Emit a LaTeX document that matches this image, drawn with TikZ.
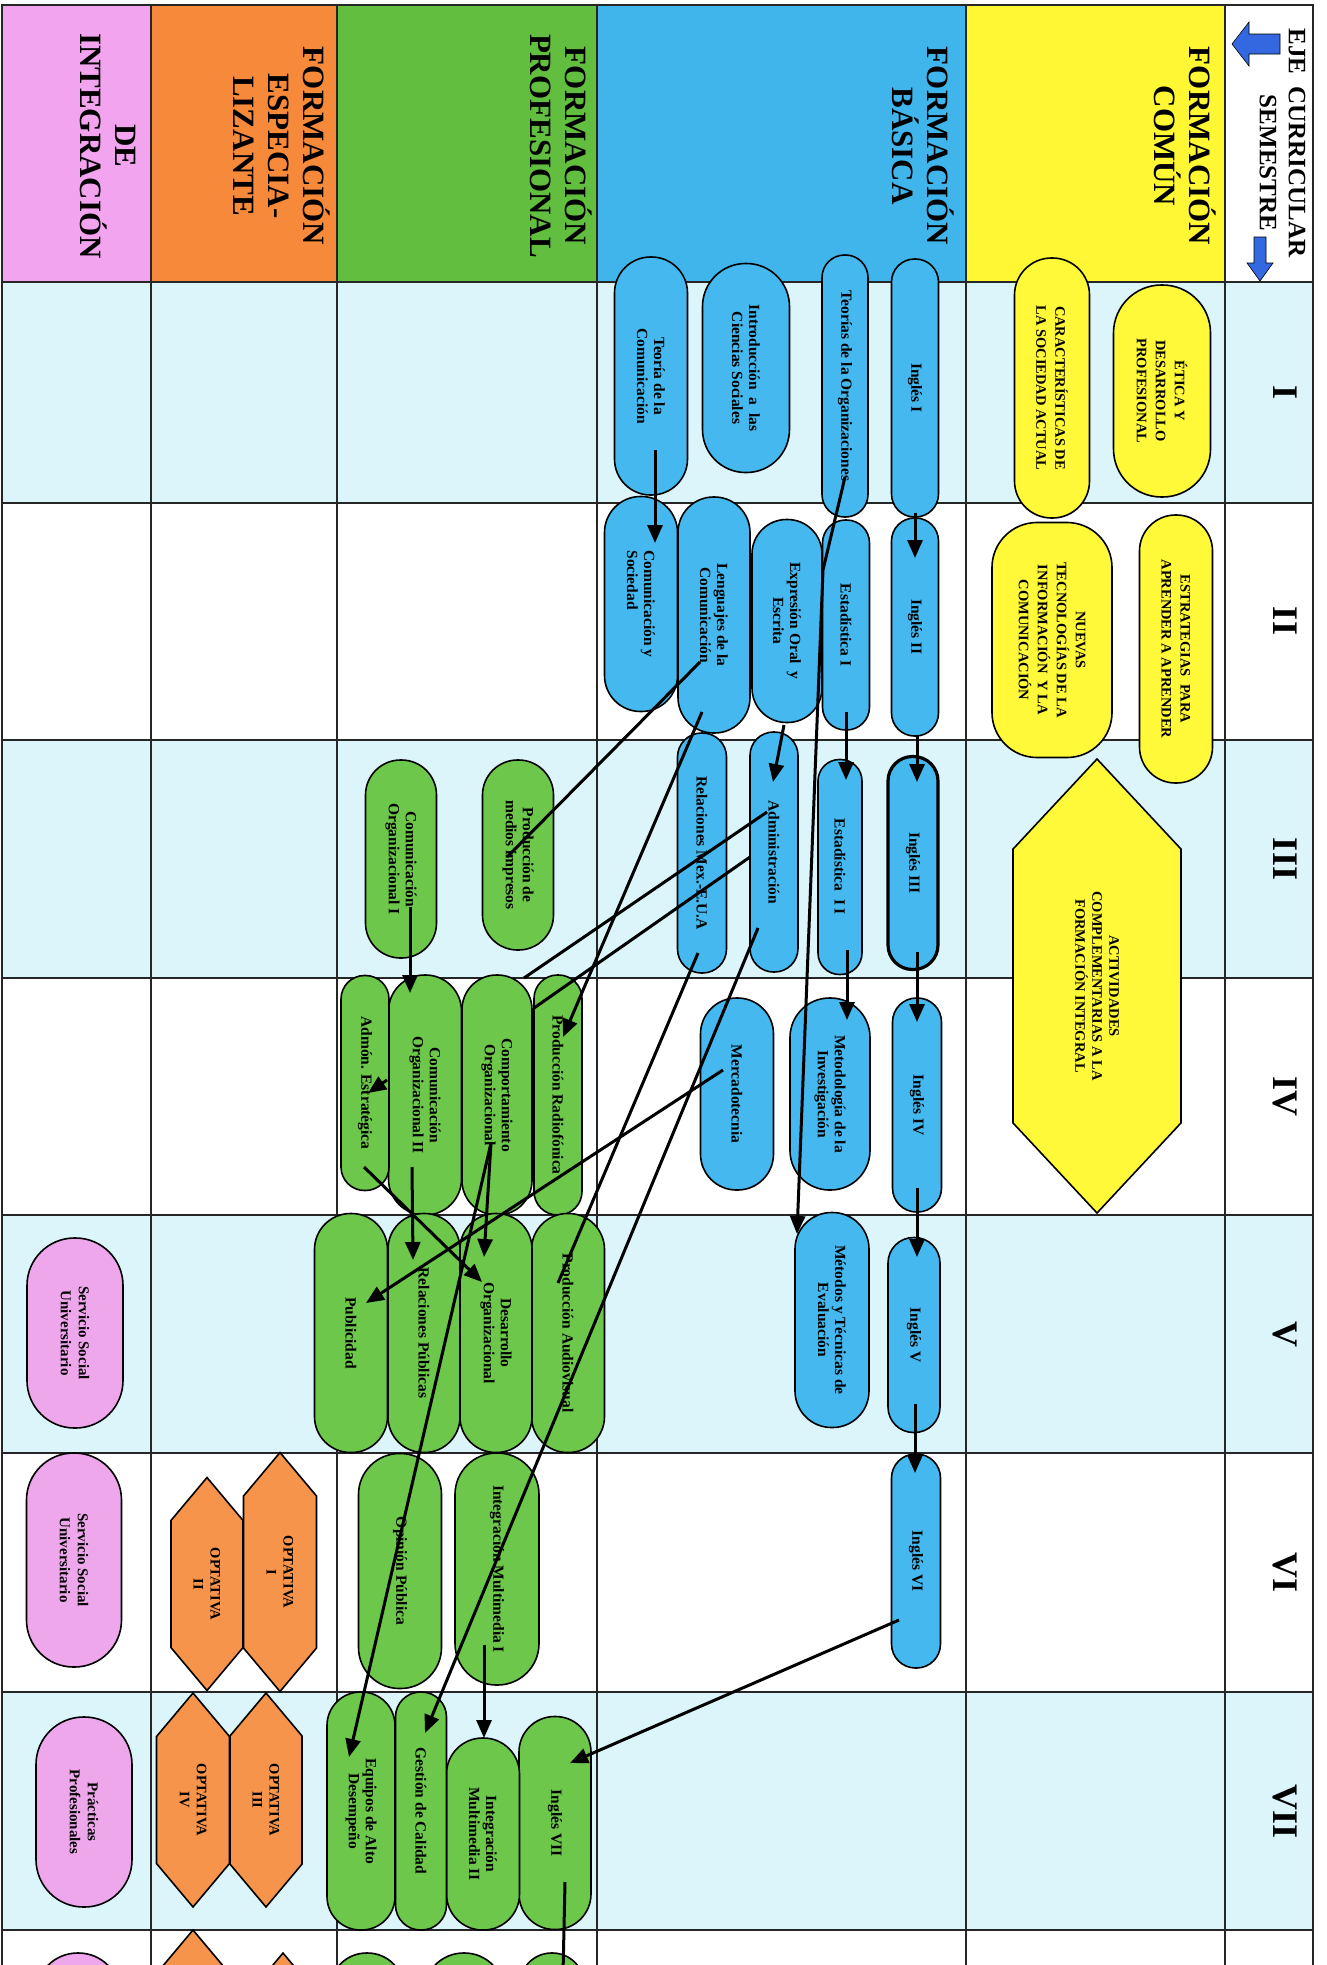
\documentclass[tikz,border=0pt]{standalone}
\usepackage{fontspec}
\setmainfont{Liberation Serif}
\usepackage{tikz}
\usetikzlibrary{shapes.misc, shapes.symbols, arrows.meta, calc}

\definecolor{cyanrow}{HTML}{DCF5FB}
\definecolor{yellowhdr}{HTML}{FFF733}
\definecolor{bluehdr}{HTML}{3FB5EC}
\definecolor{greenhdr}{HTML}{62BE3F}
\definecolor{orangehdr}{HTML}{F7893B}
\definecolor{pinkhdr}{HTML}{F3A4EE}
\definecolor{yellownode}{HTML}{FFF93A}
\definecolor{bluenode}{HTML}{45B9EF}
\definecolor{greennode}{HTML}{6CC74B}
\definecolor{orangenode}{HTML}{F7944C}
\definecolor{pinknode}{HTML}{EFA7EC}
\definecolor{arrowblue}{HTML}{3368E0}

\newcommand{\nodefont}{\fontsize{15.5}{17}\selectfont\bfseries}
\newcommand{\capsfont}{\fontsize{14.5}{19}\selectfont\bfseries}

\tikzset{
  pill/.style 2 args={draw, line width=1.6pt, rotate=-90, inner sep=0pt, align=center,
    minimum height=#1pt, minimum width=#2pt, rounded corners={#1pt/2-0.5pt}, font=\nodefont},
  opt/.style 2 args={draw, line width=1.6pt, fill=orangenode, rotate=-90, inner sep=0pt,
    align=center, shape=signal, signal to=east and west, signal pointer angle=80,
    minimum height=#1pt, minimum width=#2pt, font=\fontsize{14.5}{17}\selectfont\bfseries},
  hdr/.style={rotate=-90, align=center, inner sep=0pt, font=\fontsize{31}{35}\selectfont\bfseries},
  semnum/.style={rotate=-90, inner sep=0pt, font=\fontsize{36}{38}\selectfont\bfseries},
  grid/.style={line width=1.4pt, black!85},
  arr/.style={line width=3pt, -{Triangle[length=18pt, width=15pt]}},
  ln/.style={line width=3pt}
}

\begin{document}
\begin{tikzpicture}[x=1pt, y=-1pt]
  \useasboundingbox (0,0) rectangle (1327,1965);
  \clip (0,0) rectangle (1327,1965);
  \fill[white] (0,0) rectangle (1327,1965);

  % bands and rows
  \fill[pinkhdr] (2,5) rectangle (151,282);
  \fill[orangehdr] (151,5) rectangle (337,282);
  \fill[greenhdr] (337,5) rectangle (597,282);
  \fill[bluehdr] (597,5) rectangle (966,282);
  \fill[yellowhdr] (966,5) rectangle (1225,282);
  \foreach \a/\b in {282/503, 740/978, 1215/1453, 1692/1930}
    \fill[cyanrow] (2,\a) rectangle (1313,\b);
  \foreach \y in {282,503,740,978,1215,1453,1692,1930}
    \draw[grid] (2,\y) -- (1313,\y);
  \foreach \x in {151,337,597,966,1225}
    \draw[grid] (\x,5) -- (\x,1970);
  \draw[grid] (2,1970) -- (2,5) -- (1313,5) -- (1313,1970);

  % header
  \node[hdr, font=\fontsize{25}{27}\selectfont\bfseries] (eje) at (1297,143) {EJE~ CURRICULAR};
  \node[hdr, font=\fontsize{25}{27}\selectfont\bfseries] (semestre) at (1268,163) {SEMESTRE};
  \filldraw[fill=arrowblue, draw=black, line width=0.6pt]
    (1232,44) -- (1249,22) -- (1249,34) -- (1280,34) -- (1280,54) -- (1249,54) -- (1249,66) -- cycle;
  \filldraw[fill=arrowblue, draw=black, line width=0.6pt]
    (1260,281) -- (1247,263) -- (1254,263) -- (1254,237) -- (1266,237) -- (1266,263) -- (1273,263) -- cycle;
  \node[hdr] (hcomun) at (1185,146) {FORMACIÓN\\COMÚN};
  \node[hdr] (hbasica) at (923,146) {FORMACIÓN\\BÁSICA};
  \node[hdr] (hprof) at (561,146) {FORMACIÓN\\PROFESIONAL};
  \node[hdr] (hespec) at (282,146) {FORMACIÓN\\ESPECIA-\\LIZANTE};
  \node[hdr] (hinteg) at (108,146) {DE\\INTEGRACIÓN};
  \foreach \y/\n in {392/I, 621/II, 859/III, 1096/IV, 1334/V, 1572/VI, 1811/VII}
    \node[semnum] (sem\n) at (1285,\y) {\n};

  % formacion comun
  \node[pill={97}{212}, fill=yellownode, font=\capsfont] (etica) at (1162,391) {ÉTICA Y\\DESARROLLO\\PROFESIONAL};
  \node[pill={75}{260}, fill=yellownode, font=\capsfont] (caract) at (1052,388) {CARACTERÍSTICAS DE\\LA SOCIEDAD ACTUAL};
  \node[pill={73}{268}, fill=yellownode, font=\capsfont] (estrat) at (1176,649) {ESTRATEGIAS~ PARA\\APRENDER A APRENDER};
  \node[pill={120}{235}, fill=yellownode, font=\capsfont, rounded corners=45pt] (nuevas) at (1052,640)
    {NUEVAS\\TECNOLOGÍAS DE LA\\INFORMACIÓN~ Y LA\\COMUNICACIÓN};
  \node[draw, line width=1.6pt, fill=yellownode, rotate=-90, shape=signal, signal to=east and west,
    signal pointer angle=86, minimum height=168pt, minimum width=454pt, inner sep=0pt, align=center,
    font=\fontsize{14.5}{17}\selectfont\bfseries] (activ) at (1097,986)
    {ACTIVIDADES\\COMPLEMENTARIAS A LA\\FORMACIÓN INTEGRAL};

  % formacion basica
  \node[pill={47}{258}, fill=bluenode] (ing1) at (915,388) {Inglés I};
  \node[pill={46}{262}, fill=bluenode] (teorg) at (845,386) {Teorías de la Organizaciones};
  \node[pill={87}{209}, fill=bluenode] (intro) at (746,368) {Introducción~ a~ las\\Ciencias Sociales};
  \node[pill={73}{238}, fill=bluenode] (teocom) at (651,376) {Teoría de la\\Comunicación};
  \node[pill={47}{218}, fill=bluenode] (ing2) at (915,627) {Inglés II};
  \node[pill={47}{210}, fill=bluenode] (estad1) at (846,625) {Estadística I};
  \node[pill={70}{203}, fill=bluenode] (expr) at (787,621) {Expresión Oral~ y\\Escrita};
  \node[pill={72}{236}, fill=bluenode] (leng) at (714,615) {Lenguajes de la\\Comunicación};
  \node[pill={73}{215}, fill=bluenode, align=left] (comsoc) at (641,604) {Comunicación y\\Sociedad};
  \node[pill={50}{213}, fill=bluenode, line width=3.2pt] (ing3) at (913,863) {Inglés III};
  \node[pill={44}{215}, fill=bluenode] (estad2) at (840,867) {Estadística~~I~I};
  \node[pill={48}{240}, fill=bluenode] (admin) at (774,852) {Administración};
  \node[pill={49}{240}, fill=bluenode] (relmex) at (702,853) {Relaciones Mex.-E.U.A};
  \node[pill={49}{214}, fill=bluenode] (ing4) at (917,1105) {Inglés IV};
  \node[pill={80}{192}, fill=bluenode] (metod) at (830,1094) {Metodología de la\\Investigación};
  \node[pill={73}{192}, fill=bluenode] (merca) at (737,1094) {Mercadotecnia};
  \node[pill={52}{195}, fill=bluenode] (ing5) at (914,1335) {Inglés V};
  \node[pill={74}{215}, fill=bluenode] (metev) at (832,1320) {Métodos y Técnicas de\\Evaluación};
  \node[pill={49}{214}, fill=bluenode] (ing6) at (916,1561) {Inglés VI};

  % formacion profesional
  \node[pill={71}{190}, fill=greennode] (prodimp) at (518,855) {Producción de\\medios impresos};
  \node[pill={71}{198}, fill=greennode] (comorg1) at (401,859) {Comunicación\\Organizacional I};
  \node[pill={48}{240}, fill=greennode] (prodradio) at (558,1095) {Producción Radiofónica};
  \node[pill={70}{240}, fill=greennode] (comport) at (497,1095) {Comportamiento\\Organizacional};
  \node[pill={73}{240}, fill=greennode] (comorg2) at (425,1095) {Comunicación\\Organizacional II};
  \node[pill={48}{215}, fill=greennode] (admon) at (365,1083) {Admón. Estratégica};
  \node[pill={73}{239}, fill=greennode] (prodav) at (568,1333) {Producción Audiovisual};
  \node[pill={72}{239}, fill=greennode] (desorg) at (496,1333) {Desarrollo\\Organizacional};
  \node[pill={72}{239}, fill=greennode] (relpub) at (424,1333) {Relaciones Públicas};
  \node[pill={73}{239}, fill=greennode] (publi) at (351,1333) {Publicidad};
  \node[pill={84}{232}, fill=greennode] (intmm1) at (497,1569) {Integración Multimedia I};
  \node[pill={83}{235}, fill=greennode] (opinion) at (400,1571) {Opinión Pública};
  \node[pill={72}{213}, fill=greennode] (ing7) at (555,1823) {Inglés VII};
  \node[pill={73}{192}, fill=greennode] (intmm2) at (483,1834) {Integración\\Multimedia II};
  \node[pill={51}{238}, fill=greennode] (gestion) at (421,1811) {Gestión de Calidad};
  \node[pill={68}{238}, fill=greennode] (equipos) at (361,1811) {Equipos de Alto\\Desempeño};

  % especializante e integracion
  \node[opt={73}{239}] (opt1) at (280,1572) {OPTATIVA\\I};
  \node[opt={72}{213}] (opt2) at (207,1584) {OPTATIVA\\II};
  \node[opt={72}{214}] (opt3) at (266,1800) {OPTATIVA\\III};
  \node[opt={73}{214}] (opt4) at (193,1800) {OPTATIVA\\IV};
  \node[pill={96}{190}, fill=pinknode, font=\fontsize{15}{18}\selectfont\bfseries] (serv1) at (75,1333) {Servicio Social\\Universitario};
  \node[pill={95}{214}, fill=pinknode, font=\fontsize{15}{18}\selectfont\bfseries] (serv2) at (74,1560) {Servicio Social\\Universitario};
  \node[pill={96}{190}, fill=pinknode, font=\fontsize{15}{18}\selectfont\bfseries] (pract) at (84,1812) {Prácticas\\Profesionales};

  % semestre VIII, cut by the page
  \node[pill={84}{190}, fill=pinknode] (pinkocho) at (78,2048) {};
  \node[opt={73}{214}] (optcinco) at (193,2037) {};
  \node[opt={73}{214}] (optseis) at (283,2060) {};
  \node[pill={74}{220}, fill=greennode] (verdea) at (367,2063) {};
  \node[pill={80}{220}, fill=greennode] (verdeb) at (464,2063) {};
  \node[pill={64}{220}, fill=greennode] (ing8) at (552,2063) {};

  % seriacion
  \draw[arr] ($(ing1)+(0,125)$) -- ($(ing2)+(0,-69)$);
  \draw[arr] ($(ing2)+(2,108)$) -- ($(ing3)+(4,-81)$);
  \draw[arr] ($(ing3)+(4,89)$) -- ($(ing4)+(0,-83)$);
  \draw[arr] ($(ing4)+(0,83)$) -- ($(ing5)+(3,-78)$);
  \draw[arr] ($(ing5)+(1,69)$) -- ($(ing6)+(-1,-88)$);
  \draw[arr] ($(ing6)+(-17,59)$) -- ($(ing7)+(15,-60)$);
  \draw[arr] ($(ing7)+(10,59)$) -- ($(ing8)+(10,-43)$);
  \draw[arr] ($(teocom)+(4,74)$) -- ($(comsoc)+(14,-61)$);
  \draw[arr] ($(teorg)+(0,91)$) -- ($(estad1)+(-23,-55)$) -- ($(metev)+(-35,-86)$);
  \draw[arr] ($(estad1)+(0,87)$) -- ($(estad2)+(6,-87)$);
  \draw[arr] ($(estad2)+(7,83)$) -- ($(metod)+(17,-74)$);
  \draw[arr] ($(expr)+(-3,104)$) -- ($(admin)+(-1,-70)$);
  \draw[arr] ($(leng)+(-12,97)$) -- ($(prodradio)+(5,-58)$);
  \draw[ln] ($(comsoc)+(59,58)$) -- ($(prodimp)+(-11,2)$);
  \draw[ln] ($(admin)+(-7,-40)$) -- ($(comport)+(27,-117)$);
  \draw[ln] ($(admin)+(-24,5)$) -- ($(comport)+(37,-87)$);
  \draw[arr] ($(admin)+(-16,76)$) -- ($(gestion)+(4,-78)$);
  \draw[ln] ($(relmex)+(-4,100)$) -- ($(prodav)+(-10,-50)$);
  \draw[arr] ($(merca)+(-14,-24)$) -- ($(publi)+(15,-30)$);
  \draw[arr] ($(comorg1)+(9,48)$) -- ($(comorg2)+(-15,-102)$);
  \draw[arr] ($(comorg2)+(-38,-15)$) -- ($(admon)+(3,10)$);
  \draw[arr] ($(comorg2)+(-13,72)$) -- ($(relpub)+(-11,-73)$);
  \draw[arr] ($(admon)+(-1,84)$) -- ($(desorg)+(-14,-51)$);
  \draw[arr] ($(comport)+(-6,48)$) -- ($(desorg)+(-12,-76)$);
  \draw[arr] ($(comport)+(-6,48)$) -- ($(equipos)+(-12,-54)$);
  \draw[arr] ($(intmm1)+(-13,76)$) -- ($(intmm2)+(1,-96)$);
\end{tikzpicture}
\end{document}
